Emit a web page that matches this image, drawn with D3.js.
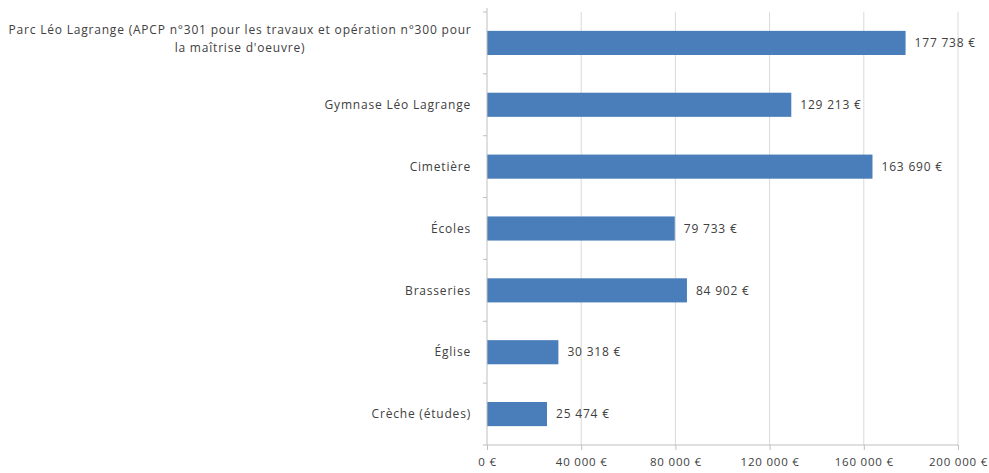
<!DOCTYPE html>
<html>
<head>
<meta charset="utf-8">
<script src="https://cdn.jsdelivr.net/npm/d3@7"></script>
<style>
  html, body { margin: 0; padding: 0; background: #fff; }
  svg text { font-family: "Open Sans", "Liberation Sans", sans-serif; fill: #404040; letter-spacing: 0.8px; }
</style>
</head>
<body>
<svg id="chart" width="989" height="473"></svg>
<script>
// Investment amounts per site (euros)
const categories = [
  "Parc Léo Lagrange (APCP n°301 pour les travaux et opération n°300 pour la maîtrise d'oeuvre)",
  "Gymnase Léo Lagrange",
  "Cimetière",
  "Écoles",
  "Brasseries",
  "Église",
  "Crèche (études)"
];
const amounts = [177738, 129213, 163690, 79733, 84902, 30318, 25474];
const tickValues = [0, 40000, 80000, 120000, 160000, 200000];

const svg = d3.select("#chart");
const margin = { left: 487, right: 31, top: 12, bottom: 28 };
const W = 989, H = 473;

const fmt = d3.formatLocale({ decimal: ",", thousands: "\u00a0", grouping: [3], currency: ["", "\u00a0€"] });
const euro = v => fmt.format(",.0f")(v) + "\u00a0€";

const x = d3.scaleLinear().domain([0, 200000]).range([margin.left, W - margin.right]);
const y = d3.scaleBand().domain(categories).range([margin.top, H - margin.bottom]).paddingInner(0.61).paddingOuter(0.305);

// vertical gridlines
svg.append("g").selectAll("line").data(tickValues.slice(1)).join("line")
  .attr("x1", d => x(d)).attr("x2", d => x(d))
  .attr("y1", margin.top).attr("y2", H - margin.bottom)
  .attr("stroke", "#d9d9d9").attr("stroke-width", 1);

// bars
svg.append("g").selectAll("rect").data(amounts).join("rect")
  .attr("x", x(0))
  .attr("y", (d, i) => y(categories[i]))
  .attr("width", d => x(d) - x(0))
  .attr("height", y.bandwidth())
  .attr("fill", "#4a7ebb");

// value labels
svg.append("g").selectAll("text").data(amounts).join("text")
  .attr("x", d => x(d) + 9)
  .attr("y", (d, i) => y(categories[i]) + y.bandwidth() / 2)
  .attr("dy", "0.35em")
  .attr("font-size", 12)
  .text(d => euro(d));

// x axis
const xAxis = d3.axisBottom(x).tickValues(tickValues).tickSize(5).tickFormat(euro);
const gx = svg.append("g").attr("transform", `translate(0,${H - margin.bottom})`).call(xAxis);
gx.select(".domain").attr("stroke", "#bfbfbf").attr("d", `M${x(0)},0H${x(200000)}`);
gx.selectAll(".tick line").attr("stroke", "#bfbfbf");
gx.selectAll(".tick text").attr("font-size", 11.5).attr("dy", "1.1em").attr("fill", "#404040");

// y axis line with small ticks on the left
svg.append("line")
  .attr("x1", x(0)).attr("x2", x(0))
  .attr("y1", margin.top - 4).attr("y2", H - margin.bottom)
  .attr("stroke", "#bfbfbf");
const yTicks = y.domain().map(c => y(c) - y.step() * y.paddingInner() / 2).concat([H - margin.bottom]);
svg.append("g").selectAll("line").data(yTicks).join("line")
  .attr("x1", x(0) - 4).attr("x2", x(0))
  .attr("y1", d => d).attr("y2", d => d)
  .attr("stroke", "#bfbfbf");

// category labels, right-aligned, first one wrapped on two lines
const labelX = 471;
const lblG = svg.append("g");
categories.forEach((c, i) => {
  const cy = y(c) + y.bandwidth() / 2;
  if (i === 0) {
    const t = lblG.append("text").attr("font-size", 12).attr("text-anchor", "middle");
    const lines = ["Parc Léo Lagrange (APCP n°301 pour les travaux et opération n°300 pour", "la maîtrise d'oeuvre)"];
    lines.forEach((ln, k) => {
      t.append("tspan").attr("x", 240).attr("y", cy - 13 + k * 18).attr("dy", "0.35em").text(ln);
    });
  } else {
    lblG.append("text").attr("x", labelX).attr("y", cy).attr("dy", "0.35em")
      .attr("text-anchor", "end").attr("font-size", 12).text(c);
  }
});
</script>
</body>
</html>
